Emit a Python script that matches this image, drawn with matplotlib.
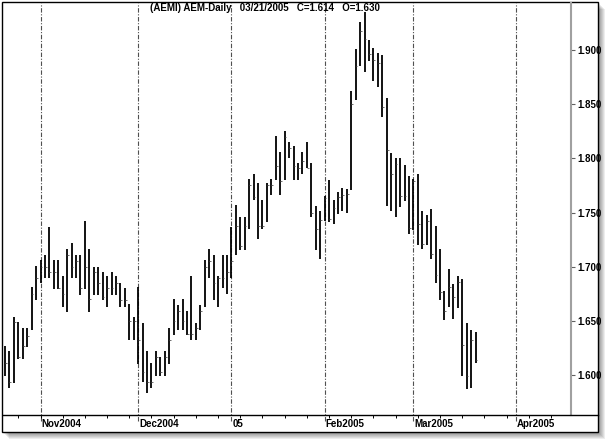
import matplotlib
matplotlib.use("Agg")
import matplotlib.pyplot as plt
from matplotlib.patches import Rectangle
from matplotlib.lines import Line2D
import matplotlib.transforms as mtransforms

# ---- data (one entry per trading day, Oct 2004 - 21 Mar 2005) ----
highs = [1.627, 1.622, 1.654, 1.649, 1.643, 1.643, 1.681, 1.701, 1.706, 1.711,
         1.737, 1.706, 1.706, 1.691, 1.716, 1.722, 1.711, 1.711, 1.742, 1.716,
         1.700, 1.700, 1.695, 1.691, 1.695, 1.691, 1.685, 1.680, 1.666, 1.654,
         1.681, 1.648, 1.622, 1.611, 1.622, 1.617, 1.622, 1.643, 1.670, 1.665,
         1.670, 1.659, 1.691, 1.648, 1.665, 1.706, 1.716, 1.711, 1.691, 1.711,
         1.711, 1.737, 1.757, 1.746, 1.746, 1.781, 1.786, 1.777, 1.762, 1.777,
         1.781, 1.821, 1.806, 1.825, 1.815, 1.811, 1.796, 1.806, 1.815, 1.796,
         1.756, 1.751, 1.765, 1.780, 1.762, 1.769, 1.773, 1.772, 1.862, 1.901,
         1.926, 1.935, 1.909, 1.902, 1.897, 1.895, 1.856, 1.805, 1.800, 1.800,
         1.794, 1.784, 1.781, 1.786, 1.751, 1.748, 1.753, 1.738, 1.716, 1.678,
         1.698, 1.684, 1.691, 1.689, 1.648, 1.642, 1.640]
lows = [1.599, 1.588, 1.593, 1.615, 1.615, 1.626, 1.642, 1.669, 1.685, 1.690,
        1.690, 1.679, 1.679, 1.663, 1.658, 1.690, 1.690, 1.674, 1.679, 1.658,
        1.674, 1.674, 1.669, 1.663, 1.674, 1.674, 1.663, 1.663, 1.632, 1.632,
        1.610, 1.594, 1.583, 1.588, 1.599, 1.599, 1.599, 1.610, 1.637, 1.642,
        1.642, 1.637, 1.632, 1.632, 1.642, 1.663, 1.690, 1.669, 1.663, 1.680,
        1.675, 1.690, 1.711, 1.715, 1.715, 1.735, 1.762, 1.726, 1.735, 1.741,
        1.766, 1.780, 1.766, 1.780, 1.800, 1.780, 1.780, 1.786, 1.791, 1.746,
        1.715, 1.707, 1.742, 1.741, 1.739, 1.749, 1.751, 1.750, 1.771, 1.854,
        1.885, 1.880, 1.890, 1.871, 1.866, 1.838, 1.756, 1.751, 1.746, 1.755,
        1.761, 1.730, 1.734, 1.720, 1.716, 1.720, 1.707, 1.685, 1.669, 1.651,
        1.663, 1.652, 1.662, 1.599, 1.587, 1.588, 1.611]
closes = [1.611, 1.594, 1.649, 1.617, 1.627, 1.636, 1.675, 1.690, 1.700, 1.700,
          1.695, 1.695, 1.680, 1.675, 1.711, 1.700, 1.705, 1.680, 1.700, 1.670,
          1.695, 1.685, 1.672, 1.680, 1.680, 1.685, 1.669, 1.669, 1.650, 1.650,
          1.632, 1.603, 1.594, 1.594, 1.617, 1.603, 1.617, 1.632, 1.650, 1.659,
          1.650, 1.638, 1.638, 1.643, 1.659, 1.700, 1.705, 1.685, 1.690, 1.690,
          1.695, 1.705, 1.738, 1.719, 1.738, 1.775, 1.764, 1.738, 1.738, 1.775,
          1.775, 1.793, 1.779, 1.820, 1.810, 1.793, 1.791, 1.798, 1.791, 1.750,
          1.735, 1.743, 1.763, 1.744, 1.754, 1.764, 1.766, 1.767, 1.850, 1.885,
          1.918, 1.910, 1.896, 1.891, 1.888, 1.847, 1.808, 1.786, 1.795, 1.765,
          1.765, 1.736, 1.779, 1.739, 1.721, 1.742, 1.712, 1.692, 1.677, 1.659,
          1.681, 1.672, 1.686, 1.628, 1.599, 1.632, 1.614]

month_labels = ["Nov2004", "Dec2004", "05", "Feb2005", "Mar2005", "Apr2005"]
month_index = [8, 30, 51, 72, 92, 115]
y_ticks = [1.600, 1.650, 1.700, 1.750, 1.800, 1.850, 1.900]
title = "(AEMI) AEM-Daily   03/21/2005   C=1.614   O=1.630"

FONT = ["Liberation Sans Narrow", "Liberation Sans", "DejaVu Sans"]
plt.rcParams["font.family"] = FONT

W, H = 610, 440
fig = plt.figure(figsize=(W / 100, H / 100), dpi=100)
fig.patch.set_facecolor("white")

# outer frame with drop shadow
for k in range(1, 8):
    fig.patches.append(Rectangle(((2 + k) / W, (8 - k) / H), 596 / W, 430 / H,
                                 transform=fig.transFigure, fc="black",
                                 ec="none", alpha=0.07, zorder=-3))
fig.patches.append(Rectangle((2 / W, 8 / H), 596 / W, 430 / H,
                             transform=fig.transFigure, fc="white",
                             ec="black", lw=1.0, zorder=-2))

ax = fig.add_axes([3 / W, 25 / H, 568 / W, 412 / H])
ax.patch.set_visible(False)
ax.set_xlim(-0.45, 127.5)
ax.set_ylim(1.5631, 1.9434)

x = list(range(len(highs)))
ax.vlines(x, lows, highs, color="black", lw=1.3, zorder=3)
ax.hlines(closes, [i for i in x], [i + 0.4 for i in x], color="#555555",
          lw=0.6, zorder=3)

# month separators
trans = mtransforms.blended_transform_factory(ax.transData, ax.transAxes)
for idx, lab in zip(month_index, month_labels):
    ax.axvline(idx, ymin=-0.014, ymax=1, clip_on=False, color="#505050",
               lw=0.8, ls=(0, (4, 1.5, 1, 1.5)), zorder=1)
    ax.text(idx + 0.25, -0.022, lab, transform=trans, ha="left", va="center",
            fontsize=7, color="black", fontweight="bold")

for s in ["left", "top", "bottom"]:
    ax.spines[s].set_visible(False)
ax.spines["right"].set_color("#a0a0a0")
ax.spines["right"].set_linewidth(1.5)

ax.yaxis.tick_right()
ax.set_yticks(y_ticks)
ax.set_yticklabels([f"{v:.3f}" for v in y_ticks])
ax.tick_params(axis="y", direction="out", length=3, width=0.8, color="#606060",
               labelsize=7, pad=1.5)
for t in ax.get_yticklabels():
    t.set_fontweight("bold")

ax.set_xticks([])
ax.set_xticks(list(range(3, 128, 5)), minor=True)
ax.tick_params(axis="x", which="minor", direction="out", length=2.5,
               width=0.7, color="black")

# bottom axis line across full frame
fig.lines.append(Line2D([3 / W, 598 / W], [25 / H, 25 / H],
                        transform=fig.transFigure, color="black", lw=1.0))

fig.text(150 / W, 1 - 8 / H, title, ha="left", va="center", fontsize=7,
         fontweight="bold")

fig.savefig("out.png", dpi=100)
